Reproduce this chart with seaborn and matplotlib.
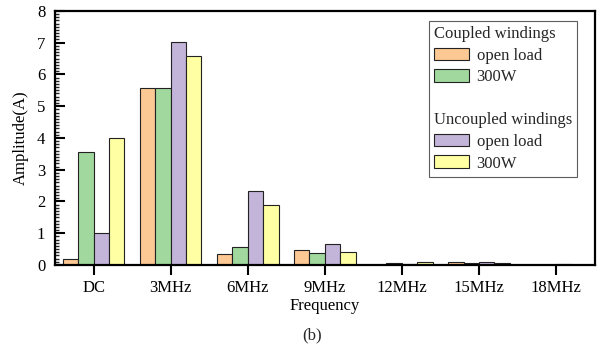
import matplotlib
matplotlib.use("Agg")
import matplotlib.pyplot as plt
from matplotlib.patches import Patch, Rectangle
from matplotlib.legend_handler import HandlerBase
from matplotlib.ticker import MultipleLocator
import seaborn as sns
import pandas as pd

# Harmonic amplitudes of the winding current
frequencies = ["DC", "3MHz", "6MHz", "9MHz", "12MHz", "15MHz", "18MHz"]
coupled_open = [0.20, 5.56, 0.35, 0.47, 0.01, 0.08, 0.01]
coupled_300w = [3.55, 5.58, 0.58, 0.37, 0.06, 0.06, 0.01]
uncoupled_open = [1.00, 7.01, 2.33, 0.65, 0.02, 0.10, 0.03]
uncoupled_300w = [4.00, 6.59, 1.89, 0.40, 0.10, 0.06, 0.01]

series_names = ["Coupled open load", "Coupled 300W", "Uncoupled open load", "Uncoupled 300W"]
series_values = [coupled_open, coupled_300w, uncoupled_open, uncoupled_300w]
colors = ["#FCC893", "#A0D89E", "#C3B4D9", "#FFFFA3"]
edge = "#222222"

df = pd.DataFrame(
    [(f, name, v) for name, vals in zip(series_names, series_values) for f, v in zip(frequencies, vals)],
    columns=["Frequency", "Series", "Amplitude"],
)

sns.set_theme(style="white")
plt.rcParams["font.family"] = ["Liberation Serif", "DejaVu Serif"]
plt.rcParams["font.size"] = 12

fig = plt.figure(figsize=(6.07, 3.51), dpi=100)
ax = fig.add_axes([0.0906, 0.245, 0.889, 0.724])

sns.barplot(
    data=df, x="Frequency", y="Amplitude", hue="Series",
    order=frequencies, hue_order=series_names, palette=colors,
    width=0.8, edgecolor=edge, linewidth=0.8, saturation=1,
    legend=False, ax=ax,
)

ax.set_xlim(-0.5, len(frequencies) - 0.5)
ax.set_ylim(0, 8)
ax.yaxis.set_major_locator(MultipleLocator(1))
ax.yaxis.set_minor_locator(MultipleLocator(0.1))
ax.tick_params(axis="y", which="major", direction="in", length=7, width=1.5,
               left=True, right=False, labelsize=12, colors="black", pad=7)
ax.tick_params(axis="y", which="minor", direction="in", length=3, width=1,
               left=True, right=False)
ax.tick_params(axis="x", which="major", direction="out", length=7, width=1.5,
               bottom=True, top=False, labelsize=12, colors="black", pad=4)

for sp in ax.spines.values():
    sp.set_visible(True)
    sp.set_color("black")
    sp.set_linewidth(1.6)

ax.set_xlabel("Frequency", fontsize=12, labelpad=1, color="black")
ax.set_ylabel("Amplitude(A)", fontsize=12, labelpad=6, color="black")


class HeaderHandler(HandlerBase):
    """Group heading row: no swatch, text flush with the swatches."""
    def legend_artist(self, legend, orig_handle, fontsize, handlebox):
        handlebox.width = -legend.handletextpad * fontsize
        r = Rectangle((0, 0), 0, 0, visible=False)
        handlebox.add_artist(r)
        return r


class Header:
    pass


h1, h2, gap = Header(), Header(), Header()
handles = [h1,
           Patch(facecolor=colors[0], edgecolor=edge, linewidth=0.8),
           Patch(facecolor=colors[1], edgecolor=edge, linewidth=0.8),
           gap, h2,
           Patch(facecolor=colors[2], edgecolor=edge, linewidth=0.8),
           Patch(facecolor=colors[3], edgecolor=edge, linewidth=0.8)]
labels = ["Coupled windings", "open load", "300W", " ", "Uncoupled windings", "open load", "300W"]
leg = ax.legend(handles, labels, loc="upper right", bbox_to_anchor=(0.968, 0.96),
                handler_map={Header: HeaderHandler()},
                fontsize=12, frameon=True, fancybox=False, edgecolor="#333333",
                handlelength=2.1, handleheight=0.78, handletextpad=0.45,
                borderpad=0.3, labelspacing=0.33, borderaxespad=0)
leg.get_frame().set_linewidth(0.8)

fig.text(0.514, 0.045, "(b)", ha="center", va="center", fontsize=12)

fig.savefig("out.png", dpi=100)
